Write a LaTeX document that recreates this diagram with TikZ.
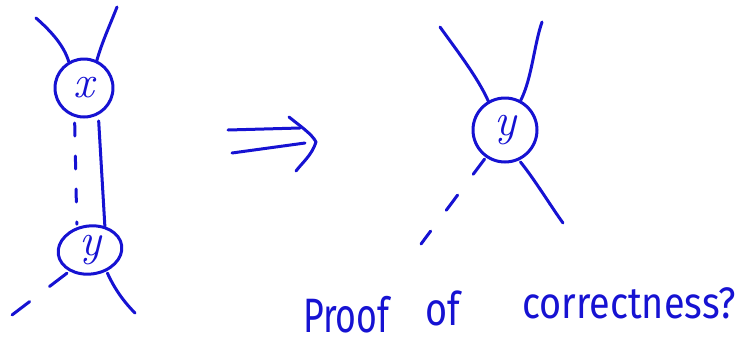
\documentclass[tikz,border=0pt]{standalone}
\usepackage{fontspec}
\setmainfont{Fira Sans}
\newfontfamily\lmfont{Latin Modern Roman}
\usetikzlibrary{shapes.geometric}
\definecolor{inkblue}{RGB}{22,18,210}
\begin{document}
\begin{tikzpicture}[x=1pt,y=-1pt,
  ink/.style={draw=inkblue, line width=3pt, line cap=round, line join=round},
  dashink/.style={ink, dash pattern=on 13pt off 20pt},
  vtx/.style={ink, circle, inner sep=0pt, text=inkblue, font=\lmfont\itshape\fontsize{46}{46}\selectfont},
  word/.style={inner sep=0pt, anchor=base west, text=inkblue, font=\fontsize{42}{42}\selectfont}]
\useasboundingbox (0,0) rectangle (740,354);
% left graph
\node[vtx, minimum size=58pt] (x) at (84,88) {x};
\node[vtx, ellipse, minimum width=64pt, minimum height=48pt, rotate=8] (yl) at (90,250) {\rotatebox{-8}{y}};
\coordinate (xa) at (36,18);
\coordinate (xb) at (117,7);
\coordinate (ya) at (12,315);
\coordinate (yb) at (135,313);
\draw[ink] (xa) .. controls (52,32) and (64,46) .. (x.120);
\draw[ink] (xb) .. controls (110,25) and (102,42) .. (x.65);
\draw[dashink, shorten <=6pt, shorten >=3pt] (x.252) -- (yl.112);
\draw[ink, shorten <=6pt] (x.-62) -- (yl.50);
\draw[ink, dash pattern=on 22pt off 25pt, shorten <=3pt] (yl.218) -- (ya);
\draw[ink, shorten <=2pt] (yl.-60) .. controls (115,290) and (125,303) .. (yb);
% arrow
\draw[ink] (228,130) -- (300,128);
\draw[ink] (232,153) -- (305,143);
\draw[ink] (289,117) .. controls (300,126) and (312,134) .. (316,142) .. controls (312,155) and (302,163) .. (296,171);
% right graph
\node[vtx, minimum size=64pt] (yr) at (505,130) {y};
\coordinate (ra) at (440,27);
\coordinate (rb) at (542,22);
\coordinate (rc) at (563,223);
\coordinate (rd) at (421,244);
\draw[ink] (ra) .. controls (458,52) and (478,78) .. (yr.120);
\draw[ink] (rb) .. controls (534,45) and (532,78) .. (yr.62);
\draw[ink, shorten <=2pt] (yr.-65) .. controls (535,180) and (550,205) .. (rc);
\draw[ink, dash pattern=on 19pt off 26pt, shorten <=2pt] (yr.-125) -- (rd);
% text
\node[word] (t1) at (303,332) {\scalebox{0.85}[1.15]{Proof}};
\node[word] (t2) at (425,325) {\scalebox{0.9}[1.1]{of}};
\node[word] (t3) at (522,318) {\scalebox{0.9}[1.05]{correctness?}};
\end{tikzpicture}
\end{document}
